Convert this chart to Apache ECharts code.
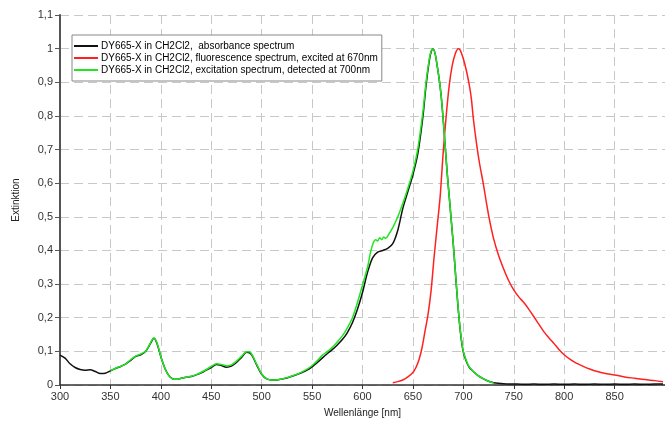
<!DOCTYPE html>
<html><head><meta charset="utf-8">
<script src="https://cdn.jsdelivr.net/npm/echarts@6/dist/echarts.min.js"></script>
<style>html,body{margin:0;padding:0;background:#fff}#c{width:665px;height:427px}</style>
</head><body><div id="c"></div>
<script>
const seriesNames = [
  'DY665-X in CH2Cl2,  absorbance spectrum',
  'DY665-X in CH2Cl2, fluorescence spectrum, excited at 670nm',
  'DY665-X in CH2Cl2, excitation spectrum, detected at 700nm'
];
const absWl = [300,305,310,315,320,325,330,335,340,345,350,355,360,365,370,375,380,385,390,393,396,400,404,408,412,416,420,425,430,435,440,445,450,455,460,465,470,475,480,485,488,491,495,500,505,510,515,520,525,530,535,540,545,550,555,560,565,570,575,580,585,590,595,600,605,610,615,620,625,630,635,640,645,650,655,660,663,666,668,670,672,674,676,678,680,682,684,686,688,690,692,694,696,698,700,703,706,710,715,720,725,730,740,750,760,770,780,790,800,810,820,830,840,850,860,870,880,890,898];
const absVal = [0.089,0.080,0.063,0.052,0.046,0.044,0.045,0.040,0.034,0.035,0.042,0.049,0.055,0.062,0.073,0.085,0.090,0.100,0.125,0.139,0.125,0.084,0.050,0.028,0.018,0.017,0.020,0.023,0.025,0.030,0.036,0.044,0.052,0.061,0.058,0.053,0.056,0.067,0.082,0.097,0.096,0.085,0.060,0.032,0.018,0.015,0.015,0.018,0.021,0.026,0.031,0.037,0.044,0.054,0.066,0.080,0.093,0.105,0.119,0.135,0.156,0.185,0.225,0.275,0.335,0.378,0.395,0.400,0.406,0.420,0.460,0.525,0.575,0.625,0.690,0.800,0.890,0.960,0.990,1.000,0.985,0.950,0.910,0.860,0.790,0.710,0.630,0.560,0.490,0.420,0.340,0.260,0.190,0.135,0.098,0.070,0.052,0.040,0.027,0.018,0.011,0.007,0.004,0.003,0.002,0.003,0.002,0.003,0.002,0.003,0.002,0.003,0.002,0.003,0.002,0.003,0.002,0.003,0.003];
const flWl = [630,635,640,645,650,653,656,659,662,665,668,671,674,677,680,683,686,689,692,695,697,700,703,706,708,710,713,716,720,723,726,730,735,740,745,750,755,760,765,770,775,780,785,790,795,800,806,812,820,826,833,840,850,860,870,880,890,898];
const flVal = [0.007,0.010,0.015,0.024,0.037,0.052,0.075,0.110,0.160,0.210,0.280,0.380,0.470,0.560,0.690,0.800,0.890,0.950,0.985,1.000,0.995,0.970,0.935,0.890,0.850,0.790,0.720,0.660,0.595,0.540,0.490,0.435,0.385,0.345,0.310,0.283,0.262,0.245,0.225,0.203,0.180,0.158,0.140,0.123,0.105,0.090,0.076,0.065,0.054,0.047,0.040,0.035,0.030,0.024,0.020,0.016,0.013,0.010];
const exWl = [350,355,360,365,370,375,380,385,390,393,396,400,404,408,412,416,420,425,430,435,440,445,450,455,460,465,470,475,480,485,488,491,495,500,505,510,515,520,525,530,535,540,545,550,555,560,565,570,575,580,585,590,595,600,605,608,611,613,615,617,619,621,623,626,630,635,640,645,650,655,660,663,666,668,670,672,674,676,678,680,682,684,686,688,690,692,694,696,698,700,703,706,710,715,720,725,730];
const exVal = [0.043,0.050,0.055,0.062,0.075,0.086,0.092,0.101,0.127,0.140,0.127,0.085,0.050,0.027,0.018,0.017,0.020,0.023,0.026,0.031,0.038,0.046,0.055,0.063,0.061,0.057,0.060,0.071,0.085,0.099,0.099,0.087,0.062,0.033,0.018,0.015,0.015,0.018,0.022,0.027,0.032,0.039,0.047,0.058,0.072,0.088,0.099,0.112,0.128,0.146,0.170,0.200,0.245,0.297,0.350,0.395,0.425,0.432,0.428,0.438,0.432,0.440,0.436,0.448,0.468,0.500,0.540,0.585,0.635,0.705,0.815,0.900,0.965,0.993,1.000,0.985,0.950,0.910,0.860,0.790,0.710,0.630,0.560,0.490,0.420,0.340,0.262,0.192,0.138,0.100,0.072,0.053,0.040,0.027,0.018,0.011,0.006];
const colors = ['#111111','#ff2020','#20e620'];

const zip = (a,b) => a.map((x,i) => [x,b[i]]);
const chart = echarts.init(document.getElementById('c'), null, {renderer:'canvas'});
const font = 'Liberation Sans, Arial, sans-serif';
const gridLine = {show:true, lineStyle:{color:'#c8c8c8', type:[9,5], width:1}};
chart.setOption({
  animation:false,
  backgroundColor:'#fff',
  grid:{left:60, right:0, top:15, bottom:42},
  legend:{
    left:72, top:35, orient:'vertical', icon:'rect', itemWidth:24, itemHeight:2, itemGap:0,
    padding:[5,4,5,2], borderColor:'#888', borderWidth:1, backgroundColor:'#fff',
    textStyle:{fontFamily:font, fontSize:10, color:'#000', lineHeight:12, padding:[0,0,0,-2]},
    data: seriesNames
  },
  xAxis:{
    type:'value', min:300, max:900, interval:50,
    name:'Wellenlänge [nm]', nameLocation:'middle', nameGap:23,
    nameTextStyle:{fontFamily:font, fontSize:10, color:'#222'},
    axisLine:{show:true, onZero:false, lineStyle:{color:'#333', width:1.5}},
    axisTick:{show:true, length:4, lineStyle:{color:'#333'}},
    axisLabel:{fontFamily:font, fontSize:11, color:'#333', margin:6, showMaxLabel:false},
    splitLine:gridLine
  },
  yAxis:{
    type:'value', min:0, max:1.1, interval:0.1,
    name:'Extinktion', nameLocation:'middle', nameGap:39,
    nameTextStyle:{fontFamily:font, fontSize:10, color:'#222'},
    axisLine:{show:true, lineStyle:{color:'#555', width:2}},
    axisTick:{show:true, length:5, lineStyle:{color:'#555'}},
    axisLabel:{fontFamily:font, fontSize:11, color:'#333', margin:7,
      formatter: v => String(+v.toFixed(1)).replace('.', ',')},
    splitLine:gridLine
  },
  series:[
    {name:seriesNames[0], type:'line', symbol:'none', data:zip(absWl,absVal), smooth:0.3,
     lineStyle:{color:colors[0], width:1.5}, itemStyle:{color:colors[0]}},
    {name:seriesNames[1], type:'line', symbol:'none', data:zip(flWl,flVal), smooth:0.3,
     lineStyle:{color:colors[1], width:1.5}, itemStyle:{color:colors[1]}},
    {name:seriesNames[2], type:'line', symbol:'none', data:zip(exWl,exVal), smooth:0.3,
     lineStyle:{color:colors[2], width:1.5}, itemStyle:{color:colors[2]}}
  ]
});
</script></body></html>
